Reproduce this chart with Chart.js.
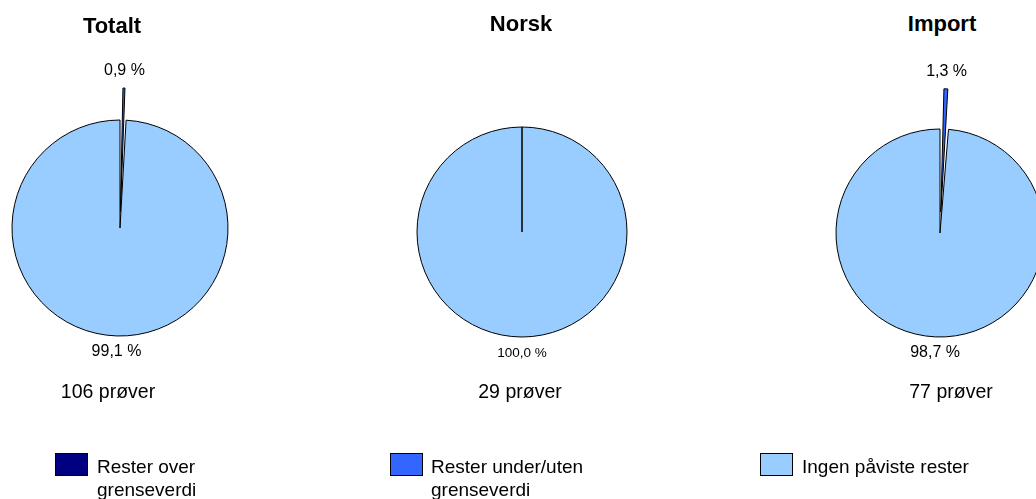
<!DOCTYPE html>
<html>
<head>
<meta charset="utf-8">
<script src="https://cdn.jsdelivr.net/npm/chart.js@4"></script>
<style>
  body { margin: 0; width: 1036px; height: 499px; overflow: hidden; background: #fff;
         font-family: "Liberation Sans", Arial, sans-serif; position: relative; }
  .box { position: absolute; }
  .txt { position: absolute; white-space: nowrap; color: #000; transform: translateX(-50%); }
  .title { font-weight: bold; font-size: 22px; line-height: 26px; }
  .count { font-size: 19.5px; line-height: 24px; }
  .swatch { position: absolute; width: 31px; height: 21px; border: 1px solid #000; }
  .leg { position: absolute; font-size: 19px; line-height: 23px; color: #000; }
</style>
</head>
<body>
<div id="wrap"></div>
<script>
// DATA
const titles = ["Totalt", "Norsk", "Import"];
const categories = ["Rester over grenseverdi", "Rester under/uten grenseverdi", "Ingen påviste rester"];
const totaltValues = [0, 0.9, 99.1];
const norskValues = [0, 0, 100];
const importValues = [0, 1.3, 98.7];
const sampleCounts = [106, 29, 77];

const colors = ["#000080", "#3366FF", "#99CCFF"];

// LAYOUT (pie centre, radius, explode offset, label font)
// chart.js moves an arc by offset/2, so these are doubled
const pies = [
  { values: totaltValues, cx: 120, cy: 228, r: 108, offset: [0, 66, 0], labelSize: 16, titleX: 112, countX: 108 },
  { values: norskValues,  cx: 522, cy: 232, r: 105, offset: [0, 20, 0], labelSize: 13.5, titleX: 521, countX: 520 },
  { values: importValues, cx: 940, cy: 233, r: 104, offset: [0, 84, 0], labelSize: 16, titleX: 942, countX: 951 }
];

const wrap = document.getElementById("wrap");

// percent labels outside each slice
const pctLabels = {
  id: "pctLabels",
  afterDatasetsDraw(chart, args, opts) {
    const ctx = chart.ctx;
    const ds = chart.data.datasets[0];
    chart.getDatasetMeta(0).data.forEach((arc, i) => {
      const v = ds.data[i];
      if (!v) return;
      const p = arc.getProps(["x", "y", "startAngle", "endAngle", "outerRadius"], true);
      const mid = (p.startAngle + p.endAngle) / 2;
      const d = p.outerRadius + (ds.offset[i] || 0) / 2 + 16;
      ctx.save();
      ctx.font = opts.size + 'px "Liberation Sans", Arial, sans-serif';
      ctx.fillStyle = "#000";
      ctx.textAlign = "center";
      ctx.textBaseline = "middle";
      ctx.fillText(v.toFixed(1).replace(".", ",") + " %", p.x + Math.cos(mid) * d, p.y + Math.sin(mid) * d);
      ctx.restore();
    });
  }
};

pies.forEach((pie, k) => {
  const W = 260, H = 380;
  const box = document.createElement("div");
  box.className = "box";
  box.style.left = (pie.cx - W / 2) + "px";
  box.style.top = (pie.cy - H / 2) + "px";
  const cv = document.createElement("canvas");
  cv.width = W; cv.height = H;
  box.appendChild(cv);
  wrap.appendChild(box);

  new Chart(cv, {
    type: "pie",
    data: {
      labels: categories,
      datasets: [{
        data: pie.values,
        backgroundColor: colors,
        borderColor: "#000",
        borderWidth: 1,
        offset: pie.offset,
        radius: pie.r
      }]
    },
    options: {
      responsive: false,
      animation: false,
      events: [],
      layout: { padding: 0 },
      plugins: {
        legend: { display: false },
        tooltip: { enabled: false },
        pctLabels: { size: pie.labelSize }
      }
    },
    plugins: [pctLabels]
  });

  const t = document.createElement("div");
  t.className = "txt title";
  t.style.left = pie.titleX + "px";
  t.style.top = (k === 0 ? 13 : 11) + "px";
  t.textContent = titles[k];
  wrap.appendChild(t);

  const c = document.createElement("div");
  c.className = "txt count";
  c.style.left = pie.countX + "px";
  c.style.top = "379px";
  c.textContent = sampleCounts[k] + " prøver";
  wrap.appendChild(c);
});

// LEGEND
const legendPos = [
  { sx: 55, tx: 97, w: 130 },
  { sx: 390, tx: 431, w: 180 },
  { sx: 760, tx: 802, w: 240 }
];
categories.forEach((name, i) => {
  const s = document.createElement("div");
  s.className = "swatch";
  s.style.left = legendPos[i].sx + "px";
  s.style.top = "453px";
  s.style.background = colors[i];
  wrap.appendChild(s);
  const l = document.createElement("div");
  l.className = "leg";
  l.style.left = legendPos[i].tx + "px";
  l.style.top = "455px";
  l.style.width = legendPos[i].w + "px";
  l.textContent = name;
  wrap.appendChild(l);
});
</script>
</body>
</html>
